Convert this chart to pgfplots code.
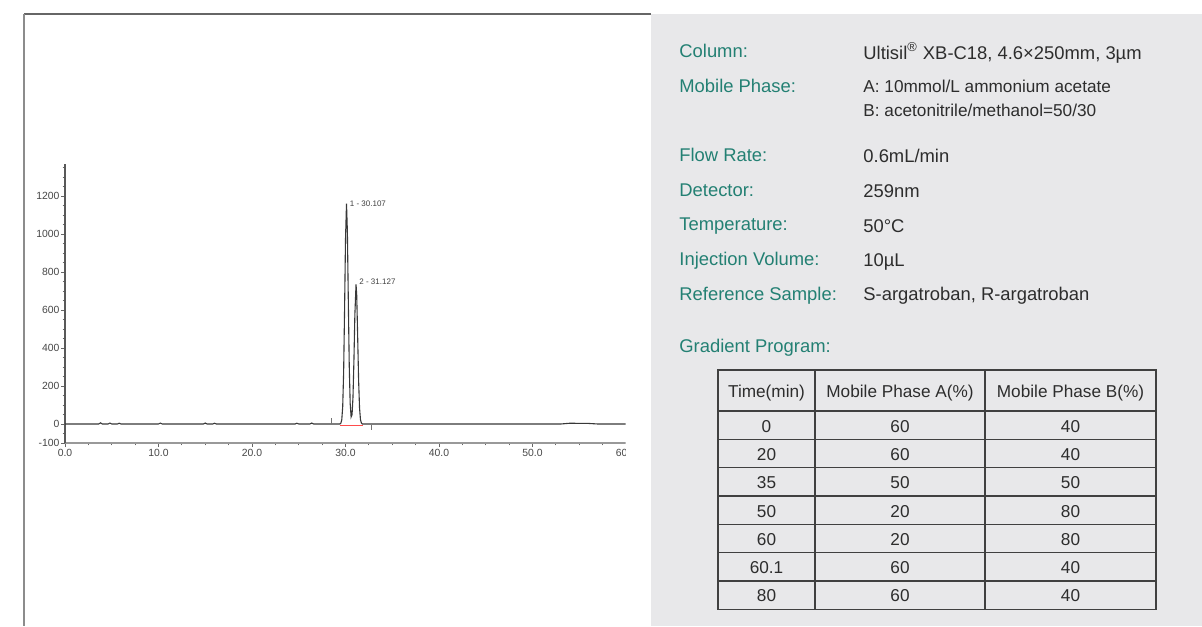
\documentclass[border=0pt]{standalone}
\usepackage{pgfplots}
\pgfplotsset{compat=1.18}
\usepackage{fontspec}
\setmainfont{Liberation Sans}
\definecolor{tealA}{RGB}{35,128,115}
\definecolor{panel}{RGB}{232,232,234}
\definecolor{txt}{RGB}{45,45,45}
\begin{document}
\begin{tikzpicture}
\begin{scope}[x=0.5pt,y=-0.5pt]
\useasboundingbox (0,0) rectangle (1202,626);
\fill[white] (0,0) rectangle (1202,626);
\fill[panel] (651,14) rectangle (1202,626);
\draw[line width=0.75pt, color=black!60] (24,14) -- (651,14);
\draw[line width=1pt, color=black!45] (24,14.4) -- (24,626);
\clip (25,15) rectangle (625.5,626);
\begin{axis}[at={(32.5pt,-221.5pt)}, anchor=south west,
  width=280.5pt, height=139.65pt, scale only axis,
  xmin=0, xmax=60, ymin=-100, ymax=1370,
  enlargelimits=false,
  axis lines*=left,
  xtick={0,10,...,60}, minor x tick num=3,
  ytick={-100,0,200,400,600,800,1000,1200},
  minor ytick={-50,50,100,...,1350},
  tick align=outside,
  major tick length=2pt, minor tick length=1.2pt,
  every tick/.style={black!60, line width=0.45pt},
  x axis line style={black!40, line width=1.2pt},
  y axis line style={black!65, line width=0.6pt},
  tick label style={font=\fontsize{5.2}{6}\selectfont, text=black!72, inner sep=0.6pt},
  /pgf/number format/assume math mode=true,
  /pgf/number format/1000 sep={},
  xticklabel style={/pgf/number format/.cd, fixed, fixed zerofill, precision=1},
  yticklabel style={/pgf/number format/.cd, fixed},
  xticklabel shift=0.3pt,
  clip=false,
]
\addplot[black!78, line width=0.55pt] coordinates {
(0,0)(3.6,0)(3.8,6)(4.0,0)(4.6,0)(4.8,5)(5.0,0)(5.6,0)(5.8,4)(6.0,0)
(10.0,0)(10.2,5)(10.4,0)(14.8,0)(15.0,5)(15.2,0)(15.8,0)(16.0,4)(16.2,0)
(24.6,0)(24.8,4)(25.0,0)(26.2,0)(26.4,5)(26.6,0)(29.4,0)
(29.5,4)(29.6,22)(29.7,90)(29.8,271)(29.9,599)(30.0,972)(30.107,1160)
(30.2,1015)(30.3,653)(30.4,308)(30.5,109)(30.6,37)(30.7,49)(30.8,141)
(30.9,332)(31.0,573)(31.127,735)(31.2,677)(31.3,463)(31.4,233)(31.5,86)
(31.6,23)(31.7,5)(31.8,0)
(53,0)(54,4)(56,3)(57,0)(60,0)
};
\addplot[red!70, line width=0.4pt] coordinates {(29.4,-5)(31.9,-5)};
\addplot[black!55, line width=0.4pt] coordinates {(28.5,0)(28.5,30)};
\addplot[black!55, line width=0.4pt] coordinates {(32.8,-3)(32.8,-30)};
\node[anchor=west, inner sep=0pt, font=\fontsize{4}{5}\selectfont, text=black!75, xshift=1.5pt] at (axis cs:30.107,1160) {1 - 30.107};
\node[anchor=west, inner sep=0pt, font=\fontsize{4}{5}\selectfont, text=black!75, xshift=1.5pt, yshift=1.5pt] at (axis cs:31.127,735) {2 - 31.127};
\end{axis}
\end{scope}
\begin{scope}[x=0.5pt,y=-0.5pt]
\tikzset{lab/.style={anchor=base west, text=tealA, font=\fontsize{9.2}{11}\selectfont, inner sep=0pt},
         val/.style={anchor=base west, text=txt, font=\fontsize{9.2}{11}\selectfont, inner sep=0pt},
         vals/.style={anchor=base west, text=txt, font=\fontsize{8.6}{10}\selectfont, inner sep=0pt},
         cell/.style={anchor=base, text=txt, font=\fontsize{8.6}{10}\selectfont, inner sep=0pt}}
\node[lab] at (679,57.3) {Column:};
\node[val] at (863,59.3) {Ultisil\textsuperscript{®} XB-C18, 4.6×250mm, 3µm};
\node[lab] at (679,92.7) {Mobile Phase:};
\node[vals] at (863,92.7) {A: 10mmol/L ammonium acetate};
\node[vals] at (863,116) {B: acetonitrile/methanol=50/30};
\node[lab] at (679,161.7) {Flow Rate:};
\node[val] at (863,162.7) {0.6mL/min};
\node[lab] at (679,196.7) {Detector:};
\node[val] at (863,197.3) {259nm};
\node[lab] at (679,230.7) {Temperature:};
\node[val] at (863,232.7) {50°C};
\node[lab] at (679,265) {Injection Volume:};
\node[val] at (863,266.7) {10µL};
\node[lab] at (679,300) {Reference Sample:};
\node[val] at (863,300.7) {S-argatroban, R-argatroban};
\node[lab] at (679,352.7) {Gradient Program:};
% table
\begin{scope}[line width=0.75pt, black!75]
\draw (718,370) rectangle (1156,609.3);
\foreach \yy in {411,439.3,467.7,496,524.3,552.7,581} \draw (718,\yy) -- (1156,\yy);
\draw (815,370) -- (815,609.3);
\draw (985,370) -- (985,609.3);
\end{scope}
\node[cell] at (766.5,397.3) {Time(min)};
\node[cell] at (900,397.3) {Mobile Phase A(\%)};
\node[cell] at (1070.5,397.3) {Mobile Phase B(\%)};
\foreach \t/\a/\b [count=\i from 0] in {0/60/40,20/60/40,35/50/50,50/20/80,60/20/80,60.1/60/40,80/60/40} {
  \node[cell] at (766.5,432.7+28.1*\i) {\t};
  \node[cell] at (900,432.7+28.1*\i) {\a};
  \node[cell] at (1070.5,432.7+28.1*\i) {\b};
}
\end{scope}
\end{tikzpicture}
\end{document}
